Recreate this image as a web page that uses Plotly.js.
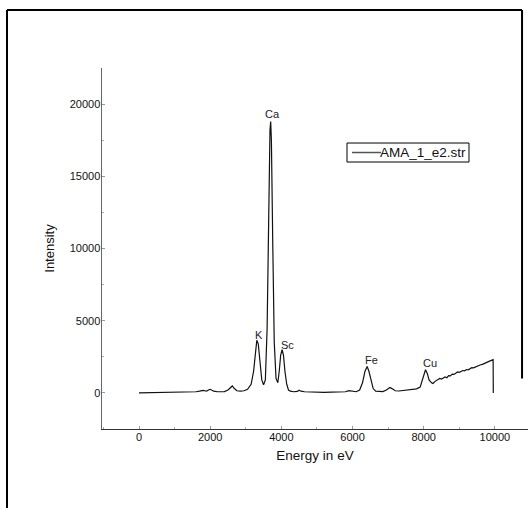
<!DOCTYPE html>
<html>
<head>
<meta charset="utf-8">
<script src="https://cdn.plot.ly/plotly-3.0.1.min.js"></script>
<style>
  html, body { margin: 0; padding: 0; background: #fff; }
  #chart { width: 528px; height: 508px; }
</style>
</head>
<body>
<div id="chart"></div>
<script>
// Energy (eV) and intensity
const energy = [
  0, 200, 500, 800, 1000, 1200, 1400, 1600, 1700, 1800, 1850, 1900, 1950, 2000, 2050, 2100,
  2200, 2300, 2400, 2500, 2550, 2620, 2680, 2750, 2850, 2950, 3050, 3150, 3220, 3270, 3310,
  3350, 3400, 3450, 3500, 3550, 3600, 3640, 3680, 3700, 3720, 3760, 3800, 3850, 3900, 3940,
  3980, 4020, 4060, 4100, 4150, 4200, 4250, 4350, 4450, 4500, 4550, 4650, 4800, 5000, 5200,
  5400, 5600, 5800, 5900, 6000, 6100, 6200, 6280, 6350, 6410, 6460, 6520, 6580, 6650, 6750,
  6850, 6950, 7050, 7120, 7200, 7300, 7400, 7500, 7600, 7700, 7800, 7900, 7950, 8000, 8050,
  8100, 8150, 8220, 8260, 8320, 8400, 8450, 8500, 8550, 8600, 8650, 8700, 8750, 8800, 8850,
  8900, 8950, 9000, 9050, 9100, 9150, 9200, 9250, 9300, 9350, 9400, 9450, 9500, 9550, 9600,
  9650, 9700, 9750, 9800, 9850, 9900, 9950, 9955
];
const intensity = [
  0, 5, 10, 20, 30, 40, 60, 80, 120, 180, 150, 120, 200, 250, 180, 120,
  80, 100, 90, 200, 350, 480, 300, 150, 120, 150, 250, 600, 1500, 2800, 3650,
  3400, 2000, 900, 560, 900, 4500, 12000, 18200, 18800, 17500, 10000, 3500, 1000, 700, 1500,
  2600, 3000, 2600, 1500, 600, 200, 120, 80, 100, 180, 120, 80, 60, 50, 40,
  50, 60, 80, 150, 100, 80, 200, 700, 1500, 1830, 1500, 800, 300, 120, 80,
  90, 200, 370, 280, 150, 130, 160, 180, 200, 230, 280, 400, 800, 1300, 1600,
  1350, 900, 700, 650, 800, 900, 1000, 960, 1050, 1100, 1050, 1200, 1180, 1300, 1280,
  1400, 1450, 1420, 1500, 1550, 1530, 1620, 1600, 1700, 1750, 1730, 1800, 1850, 1900, 1950,
  1980, 2050, 2100, 2150, 2200, 2250, 2300, 0
];
const seriesName = "AMA_1_e2.str";

// Peak labels
const peakLabels = ["Ca", "K", "Sc", "Fe", "Cu"];
const peakX = [3755, 3380, 4175, 6535, 8175];
const peakY = [19300, 4030, 3330, 2290, 2060];

const xTicks = [0, 2000, 4000, 6000, 8000, 10000];
const yTicks = [0, 5000, 10000, 15000, 20000];

const font = "Liberation Sans, Arial, sans-serif";

const trace = {
  x: energy, y: intensity, type: "scatter", mode: "lines",
  name: seriesName, showlegend: false,
  line: { color: "#111", width: 1.2 }
};

const annotations = peakLabels.map((t, i) => ({
  x: peakX[i], y: peakY[i], xref: "x", yref: "y", text: t, showarrow: false,
  font: { family: font, size: 11, color: "#222" }
}));
// legend text (boxed legend drawn with shapes)
annotations.push({
  x: 0.6502, y: 0.7659, xref: "paper", yref: "paper", xanchor: "left", yanchor: "middle",
  text: seriesName, showarrow: false, borderpad: 0,
  font: { family: font, size: 13.5, color: "#111" }
});

const layout = {
  width: 528, height: 508,
  margin: { l: 102, r: 0, t: 68, b: 79 },
  paper_bgcolor: "#fff", plot_bgcolor: "#fff",
  font: { family: font, size: 11, color: "#111" },
  showlegend: false,
  xaxis: {
    range: [-1040, 10930], tickvals: xTicks, ticktext: xTicks.map(String),
    showgrid: false, zeroline: false, showline: true, linecolor: "#333", linewidth: 1,
    ticks: "inside", ticklen: 3, tickcolor: "#999", ticklabelstandoff: -2,
    minor: { dtick: 1000, ticks: "inside", ticklen: 2, tickcolor: "#aaa", showgrid: false },
    tickfont: { family: font, size: 11, color: "#111" },
    title: { text: "Energy in eV", font: { family: font, size: 13.5, color: "#111" }, standoff: 8 },
    fixedrange: true
  },
  yaxis: {
    range: [-2500, 22500], tickvals: yTicks, ticktext: yTicks.map(String),
    showgrid: false, zeroline: false, showline: true, linecolor: "#666", linewidth: 1.5,
    ticks: "inside", ticklen: 3, tickcolor: "#999", ticklabelstandoff: -2,
    minor: { dtick: 2500, ticks: "inside", ticklen: 2, tickcolor: "#aaa", showgrid: false },
    tickfont: { family: font, size: 11, color: "#111" },
    title: { text: "Intensity", font: { family: font, size: 13, color: "#111" }, standoff: 12 },
    fixedrange: true
  },
  annotations: annotations,
  shapes: [
    // outer page frame (top, left, right)
    { type: "line", xref: "paper", yref: "paper", x0: -0.223, x1: 0.986, y0: 1.1607, y1: 1.1607, line: { color: "#000", width: 2 } },
    { type: "line", xref: "paper", yref: "paper", x0: -0.223, x1: -0.223, y0: 1.1607, y1: -0.23, line: { color: "#000", width: 2 } },
    { type: "line", xref: "paper", yref: "paper", x0: 0.986, x1: 0.986, y0: 1.1607, y1: 0.14, line: { color: "#000", width: 2 } },
    // legend box and line sample
    { type: "rect", xref: "paper", yref: "paper", x0: 0.5751, x1: 0.8615, y0: 0.7396, y1: 0.7922, line: { color: "#000", width: 1 }, fillcolor: "#fff" },
    { type: "line", xref: "paper", yref: "paper", x0: 0.5869, x1: 0.6549, y0: 0.7659, y1: 0.7659, line: { color: "#555", width: 1.5 } }
  ]
};

Plotly.newPlot("chart", [trace], layout, { displayModeBar: false, staticPlot: true });
</script>
</body>
</html>
